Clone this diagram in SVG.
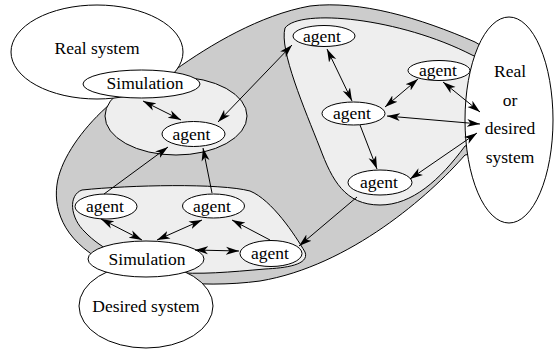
<svg xmlns="http://www.w3.org/2000/svg" width="558" height="349" viewBox="0 0 558 349">
<defs>
<style>
.o{stroke:#000;stroke-width:1}
.w{fill:#fff}
.l{fill:#eeeeee}
.d{fill:#cccccc}
.t{font-size:17.5px;fill:#000;text-anchor:middle}
.c line{stroke:#000;stroke-width:1}
.c .b{marker-start:url(#ah);marker-end:url(#ah)}
.c .s{marker-end:url(#ah)}
</style>
<marker id="ah" markerUnits="userSpaceOnUse" markerWidth="14" markerHeight="10" refX="13" refY="4" orient="auto-start-reverse" viewBox="0 0 14 8">
<path d="M0,0 L13,4 L0,8 L3.5,4 Z" fill="#000"/>
</marker>
</defs>
<g id="bigRegion">
<path class="o d" d="M175,70 C210,45 260,15 310,6 C360,0 420,18 475,42 L492,52 L492,150 L465,155 C430,195 350,266 260,281 C200,289 125,282 90,253 C55,228 52,195 60,172 C68,148 90,120 115,100 C140,82 160,76 175,70 Z"/>
</g>
<g id="rightGroup">
<path class="o l" d="M285,28 C300,8 400,18 472,55 L488,62 L488,140 L465,146 C440,180 412,205 380,205 C345,205 332,180 320,148 C305,110 279,50 285,28 Z"/>
</g>
<g id="lowerGroup">
<path class="o l" d="M82,190 C130,185 220,183 250,191 C272,200 295,235 305,252 C310,265 285,268 265,269 C230,272 200,275 170,272 C130,265 100,248 85,232 C70,218 68,195 82,190 Z"/>
</g>
<g id="upperGroup">
<ellipse class="o l" cx="176" cy="116" rx="71" ry="39"/>
</g>
<g font-family="'Liberation Serif', 'Times New Roman', 'DejaVu Serif', serif">
<g id="realSystem">
<ellipse class="o w" cx="97" cy="52" rx="86" ry="47"/>
<text class="t" x="97" y="54">Real system</text>
</g>
<g id="simulationTop">
<ellipse class="o w" cx="141.5" cy="84" rx="58.5" ry="14"/>
<text class="t" x="145" y="89">Simulation</text>
</g>
<g id="realOrDesired">
<ellipse class="o w" cx="509" cy="120" rx="44" ry="103"/>
<text class="t" x="510" y="77">Real</text>
<text class="t" x="510" y="106">or</text>
<text class="t" x="510" y="134">desired</text>
<text class="t" x="510" y="163">system</text>
</g>
<g id="desiredSystem">
<ellipse class="o w" cx="146" cy="306" rx="67" ry="42"/>
<text class="t" x="146" y="312">Desired system</text>
</g>
<g id="simulationBottom">
<ellipse class="o w" cx="146" cy="259" rx="58" ry="18"/>
<text class="t" x="147" y="265">Simulation</text>
</g>
<g id="agentUL">
<ellipse class="o w" cx="193.5" cy="134" rx="31.5" ry="12.5"/>
<text class="t" x="191.5" y="140">agent</text>
</g>
<g id="agentTop">
<ellipse class="o w" cx="324" cy="36" rx="31" ry="10.5"/>
<text class="t" x="322" y="42">agent</text>
</g>
<g id="agentRight">
<ellipse class="o w" cx="439" cy="70.5" rx="31" ry="10"/>
<text class="t" x="438" y="76">agent</text>
</g>
<g id="agentMid">
<ellipse class="o w" cx="353.5" cy="113.5" rx="31.5" ry="11.5"/>
<text class="t" x="352" y="119">agent</text>
</g>
<g id="agentLR">
<ellipse class="o w" cx="380" cy="182.5" rx="32" ry="12.5"/>
<text class="t" x="379" y="188">agent</text>
</g>
<g id="agentL1">
<ellipse class="o w" cx="106" cy="206.5" rx="31" ry="12.5"/>
<text class="t" x="105" y="212">agent</text>
</g>
<g id="agentL2">
<ellipse class="o w" cx="213.5" cy="206" rx="31" ry="12"/>
<text class="t" x="212" y="212">agent</text>
</g>
<g id="agentBR">
<ellipse class="o w" cx="271" cy="253.5" rx="31" ry="13"/>
<text class="t" x="270" y="259">agent</text>
</g>
</g>
<g class="c" id="connectors">
<line class="b" x1="143" y1="101" x2="181" y2="120"/>
<line class="b" x1="292" y1="45" x2="218" y2="122"/>
<line class="s" x1="212" y1="193" x2="203" y2="148"/>
<line class="s" x1="104" y1="194" x2="168" y2="147"/>
<line class="b" x1="327" y1="49" x2="352" y2="101"/>
<line class="b" x1="418" y1="79" x2="385" y2="107"/>
<line class="b" x1="387" y1="116" x2="480" y2="124"/>
<line class="b" x1="443" y1="82" x2="480" y2="112"/>
<line class="s" x1="360" y1="125" x2="377" y2="169"/>
<line class="b" x1="410" y1="179" x2="477" y2="133"/>
<line class="s" x1="357" y1="197" x2="299" y2="246"/>
<line class="b" x1="101" y1="219" x2="142" y2="240"/>
<line class="b" x1="157" y1="240" x2="202" y2="220"/>
<line class="b" x1="195" y1="250" x2="239" y2="251"/>
<line class="s" x1="270" y1="240" x2="232" y2="220"/>
</g>
</svg>
